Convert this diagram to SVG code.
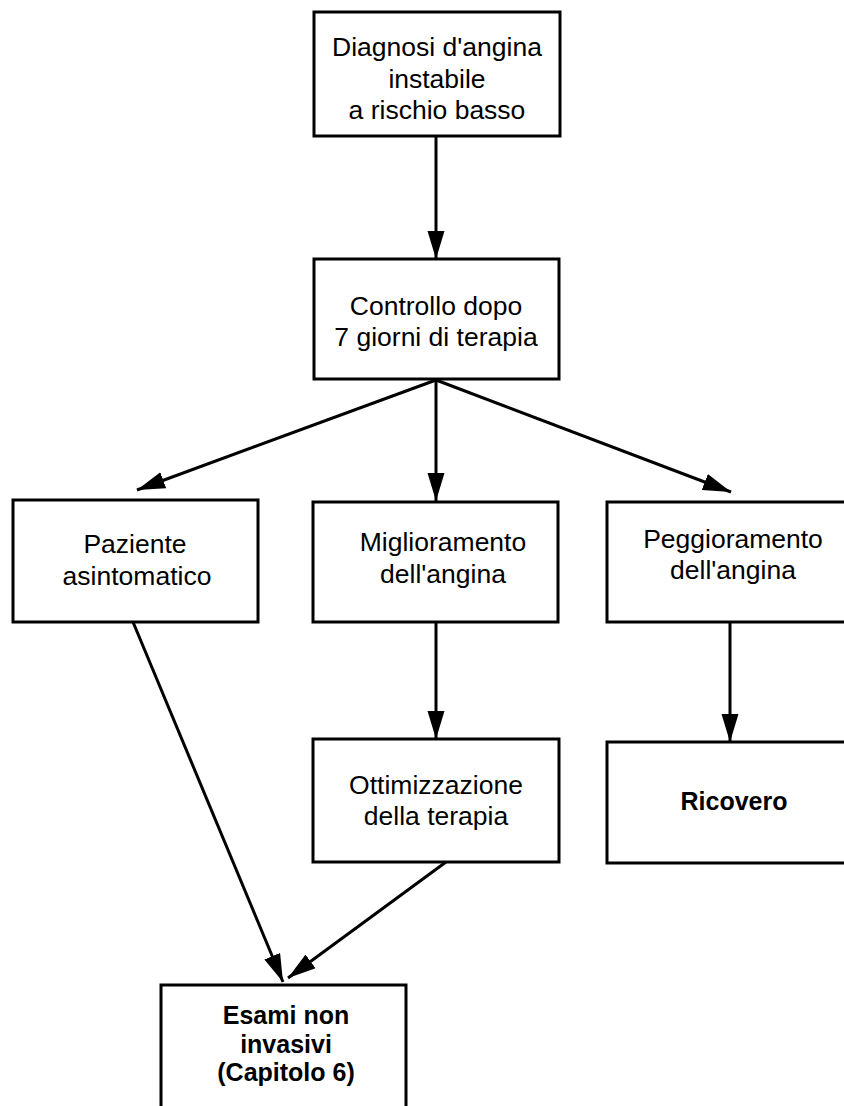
<svg xmlns="http://www.w3.org/2000/svg" width="844" height="1106" viewBox="0 0 844 1106">
  <style>
    .box { fill: #ffffff; stroke: #000000; stroke-width: 3; }
    .lbl { font-family: "Liberation Sans", Arial, sans-serif; font-size: 26.5px; fill: #000000; text-anchor: middle; }
    .bold { font-weight: bold; font-size: 25px; }
    .edge { fill: none; stroke: #000000; stroke-width: 3; marker-end: url(#head); }
  </style>
  <defs>
    <marker id="head" markerUnits="userSpaceOnUse" markerWidth="30" markerHeight="18" refX="28" refY="8.5" orient="auto">
      <path d="M0,0 L28,8.5 L0,17 z" fill="#000000"/>
    </marker>
  </defs>
  <rect width="844" height="1106" fill="#ffffff"/>

  <g id="connectors">
    <line class="edge" x1="436" y1="136" x2="436" y2="259"/>
    <line class="edge" x1="436" y1="380" x2="137" y2="490"/>
    <line class="edge" x1="436" y1="380" x2="436" y2="501"/>
    <line class="edge" x1="436" y1="380" x2="731" y2="492"/>
    <line class="edge" x1="436" y1="622" x2="436" y2="739"/>
    <line class="edge" x1="730" y1="622" x2="730" y2="742"/>
    <line class="edge" x1="133" y1="622" x2="283" y2="982"/>
    <line class="edge" x1="446" y1="862" x2="288" y2="978"/>
  </g>

  <g id="diagnosi">
    <rect class="box" x="314" y="12" width="246" height="124"/>
    <text class="lbl" x="437" y="56">Diagnosi d'angina</text>
    <text class="lbl" x="437" y="88">instabile</text>
    <text class="lbl" x="437" y="119">a rischio basso</text>
  </g>

  <g id="controllo">
    <rect class="box" x="314" y="259" width="245" height="120"/>
    <text class="lbl" x="436" y="315">Controllo dopo</text>
    <text class="lbl" x="436" y="346">7 giorni di terapia</text>
  </g>

  <g id="asintomatico">
    <rect class="box" x="13" y="500" width="245" height="122"/>
    <text class="lbl" x="135" y="553">Paziente</text>
    <text class="lbl" x="137" y="585">asintomatico</text>
  </g>

  <g id="miglioramento">
    <rect class="box" x="313" y="502" width="245" height="120"/>
    <text class="lbl" x="443" y="551">Miglioramento</text>
    <text class="lbl" x="443" y="583">dell'angina</text>
  </g>

  <g id="peggioramento">
    <rect class="box" x="607" y="502" width="260" height="120"/>
    <text class="lbl" x="733" y="548">Peggioramento</text>
    <text class="lbl" x="733" y="579">dell'angina</text>
  </g>

  <g id="ottimizzazione">
    <rect class="box" x="313" y="739" width="246" height="123"/>
    <text class="lbl" x="436" y="794">Ottimizzazione</text>
    <text class="lbl" x="436" y="825">della terapia</text>
  </g>

  <g id="ricovero">
    <rect class="box" x="607" y="742" width="260" height="121"/>
    <text class="lbl bold" x="734" y="810">Ricovero</text>
  </g>

  <g id="esami">
    <rect class="box" x="161" y="985" width="245" height="140"/>
    <text class="lbl bold" x="286" y="1024">Esami non</text>
    <text class="lbl bold" x="286" y="1053">invasivi</text>
    <text class="lbl bold" x="286" y="1081">(Capitolo 6)</text>
  </g>
</svg>
